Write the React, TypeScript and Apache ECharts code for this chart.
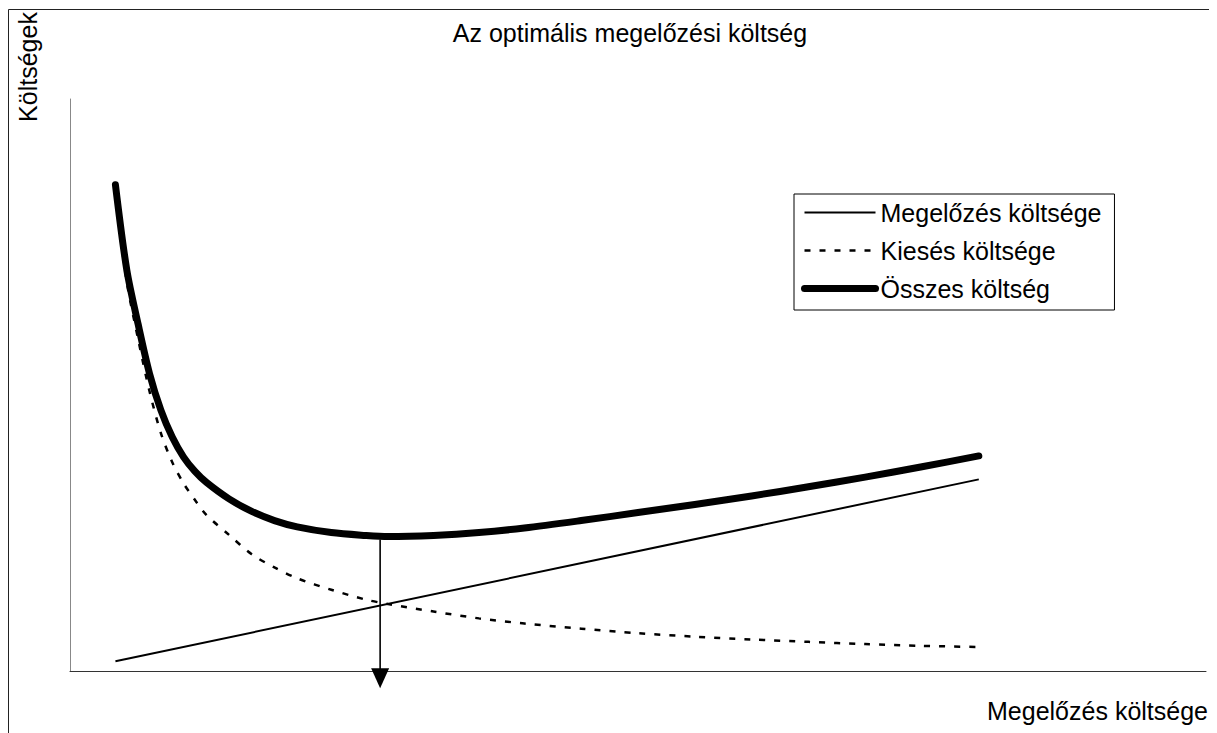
import { useEffect, useRef } from 'react';
import * as echarts from 'echarts';

// Prevention spending (x) and the three cost curves over it
const seriesNames = ['Megelőzés költsége', 'Kiesés költsége', 'Összes költség'];
const spending = [4, 5, 6, 7, 8, 9, 10, 11, 12, 14, 16, 18, 20, 23, 26, 28, 32, 36, 40, 45, 50, 55, 60, 65, 70, 75, 80];
const failure = [83.0, 68.0, 58.0, 48.9, 41.6, 36.5, 32.8, 29.9, 27.3, 23.8, 20.4, 18.1, 16.2, 14.2, 12.5, 11.7, 10.4, 9.2, 8.3, 7.4, 6.6, 6.0, 5.5, 5.1, 4.7, 4.4, 4.2];
const total = [85.0, 70.1, 60.6, 52.0, 45.6, 40.9, 37.4, 34.9, 33.0, 30.1, 27.9, 26.3, 25.2, 24.2, 23.7, 23.5, 23.7, 24.2, 25.0, 26.3, 27.7, 29.1, 30.6, 32.2, 33.9, 35.7, 37.6];

// Prevention cost grows in a straight line between these two spending levels
const preventionAt = [4, 80];
const prevention = [1.7, 33.5];

// Optimum marker: vertical arrow from the minimum of the total cost down past the x axis
const optimum = [27.3, 23.0, -3.0];

const chartTitle = 'Az optimális megelőzési költség';
const yAxisName = 'Költségek';
const xAxisName = 'Megelőzés költsége';

const FONT = '"Liberation Sans", Arial, Helvetica, sans-serif';

export default function App() {
  const ref = useRef<HTMLDivElement>(null);

  useEffect(() => {
    const chart = echarts.init(ref.current!, undefined, { renderer: 'svg' });
    const pairs = (xs: number[], ys: number[]) => xs.map((x, i) => [x, ys[i]]);
    const hiddenSymbol = { opacity: 0 };

    chart.setOption({
      animation: false,
      textStyle: { fontFamily: FONT, color: '#000' },
      grid: { left: 62, top: 91, width: 1136, height: 572 },
      xAxis: {
        type: 'value',
        min: 0,
        max: 100,
        axisLine: { show: true, onZero: false, lineStyle: { color: '#333', width: 1 } },
        axisTick: { show: false },
        axisLabel: { show: false },
        splitLine: { show: false },
      },
      yAxis: {
        type: 'value',
        min: 0,
        max: 100,
        axisLine: { show: true, onZero: false, lineStyle: { color: '#888', width: 1 } },
        axisTick: { show: false },
        axisLabel: { show: false },
        splitLine: { show: false },
      },
      legend: {
        data: [
          { name: seriesNames[0], itemStyle: hiddenSymbol, lineStyle: { width: 2, color: '#000' } },
          { name: seriesNames[1], itemStyle: hiddenSymbol, lineStyle: { width: 2.5, color: '#000', type: [6, 9] } },
          { name: seriesNames[2], itemStyle: hiddenSymbol, lineStyle: { width: 7, color: '#000', cap: 'round' } },
        ],
        orient: 'vertical',
        left: 786,
        top: 186,
        padding: [6, 13, 9, 7],
        itemWidth: 71,
        itemHeight: 14,
        itemGap: 13,
        borderColor: '#000',
        borderWidth: 1,
        selectedMode: false,
        textStyle: { fontSize: 25, fontFamily: FONT, color: '#000', lineHeight: 25 },
      },
      graphic: [
        {
          type: 'rect',
          shape: { x: 0.5, y: 1.5, width: 1202, height: 800 },
          style: { fill: 'none', stroke: '#222', lineWidth: 1 },
          silent: true,
        },
        {
          type: 'text',
          x: 622,
          y: 25,
          style: {
            text: chartTitle,
            fontSize: 25,
            fontFamily: FONT,
            fill: '#000',
            align: 'center',
            verticalAlign: 'middle',
            textAlign: 'center',
            textVerticalAlign: 'middle',
          },
        },
        {
          type: 'text',
          x: 20,
          y: 59,
          rotation: Math.PI / 2,
          style: {
            text: yAxisName,
            fontSize: 25,
            fontFamily: FONT,
            fill: '#000',
            align: 'center',
            verticalAlign: 'middle',
            textAlign: 'center',
            textVerticalAlign: 'middle',
          },
        },
        {
          type: 'text',
          x: 1200,
          y: 703,
          style: {
            text: xAxisName,
            fontSize: 25,
            fontFamily: FONT,
            fill: '#000',
            align: 'right',
            verticalAlign: 'middle',
            textAlign: 'right',
            textVerticalAlign: 'middle',
          },
        },
      ],
      series: [
        {
          name: seriesNames[0],
          type: 'line',
          data: pairs(preventionAt, prevention),
          symbol: 'none',
          lineStyle: { color: '#000', width: 2 },
          itemStyle: { color: '#000' },
          z: 3,
        },
        {
          name: seriesNames[1],
          type: 'line',
          data: pairs(spending, failure),
          symbol: 'none',
          smooth: 0.3,
          lineStyle: { color: '#000', width: 2.5, type: [6, 9] },
          itemStyle: { color: '#000' },
          z: 2,
        },
        {
          name: seriesNames[2],
          type: 'line',
          data: pairs(spending, total),
          symbol: 'none',
          smooth: 0.3,
          lineStyle: { color: '#000', width: 7, cap: 'round', join: 'round' },
          itemStyle: { color: '#000' },
          z: 4,
        },
        {
          type: 'custom',
          silent: true,
          clip: false,
          z: 5,
          data: [optimum],
          encode: { x: 0, y: [1, 2] },
          renderItem: (_params: any, api: any) => {
            const top = api.coord([api.value(0), api.value(1)]);
            const tip = api.coord([api.value(0), api.value(2)]);
            const headW = 9;
            const headH = 20;
            return {
              type: 'group',
              children: [
                {
                  type: 'line',
                  shape: { x1: top[0], y1: top[1], x2: tip[0], y2: tip[1] - headH + 1 },
                  style: { stroke: '#000', lineWidth: 1.6 },
                },
                {
                  type: 'polygon',
                  shape: {
                    points: [
                      [tip[0] - headW, tip[1] - headH],
                      [tip[0] + headW, tip[1] - headH],
                      [tip[0], tip[1]],
                    ],
                  },
                  style: { fill: '#000' },
                },
              ],
            };
          },
        },
      ],
    });

    return () => chart.dispose();
  }, []);

  return <div ref={ref} style={{ width: 1203, height: 725 }} />;
}
